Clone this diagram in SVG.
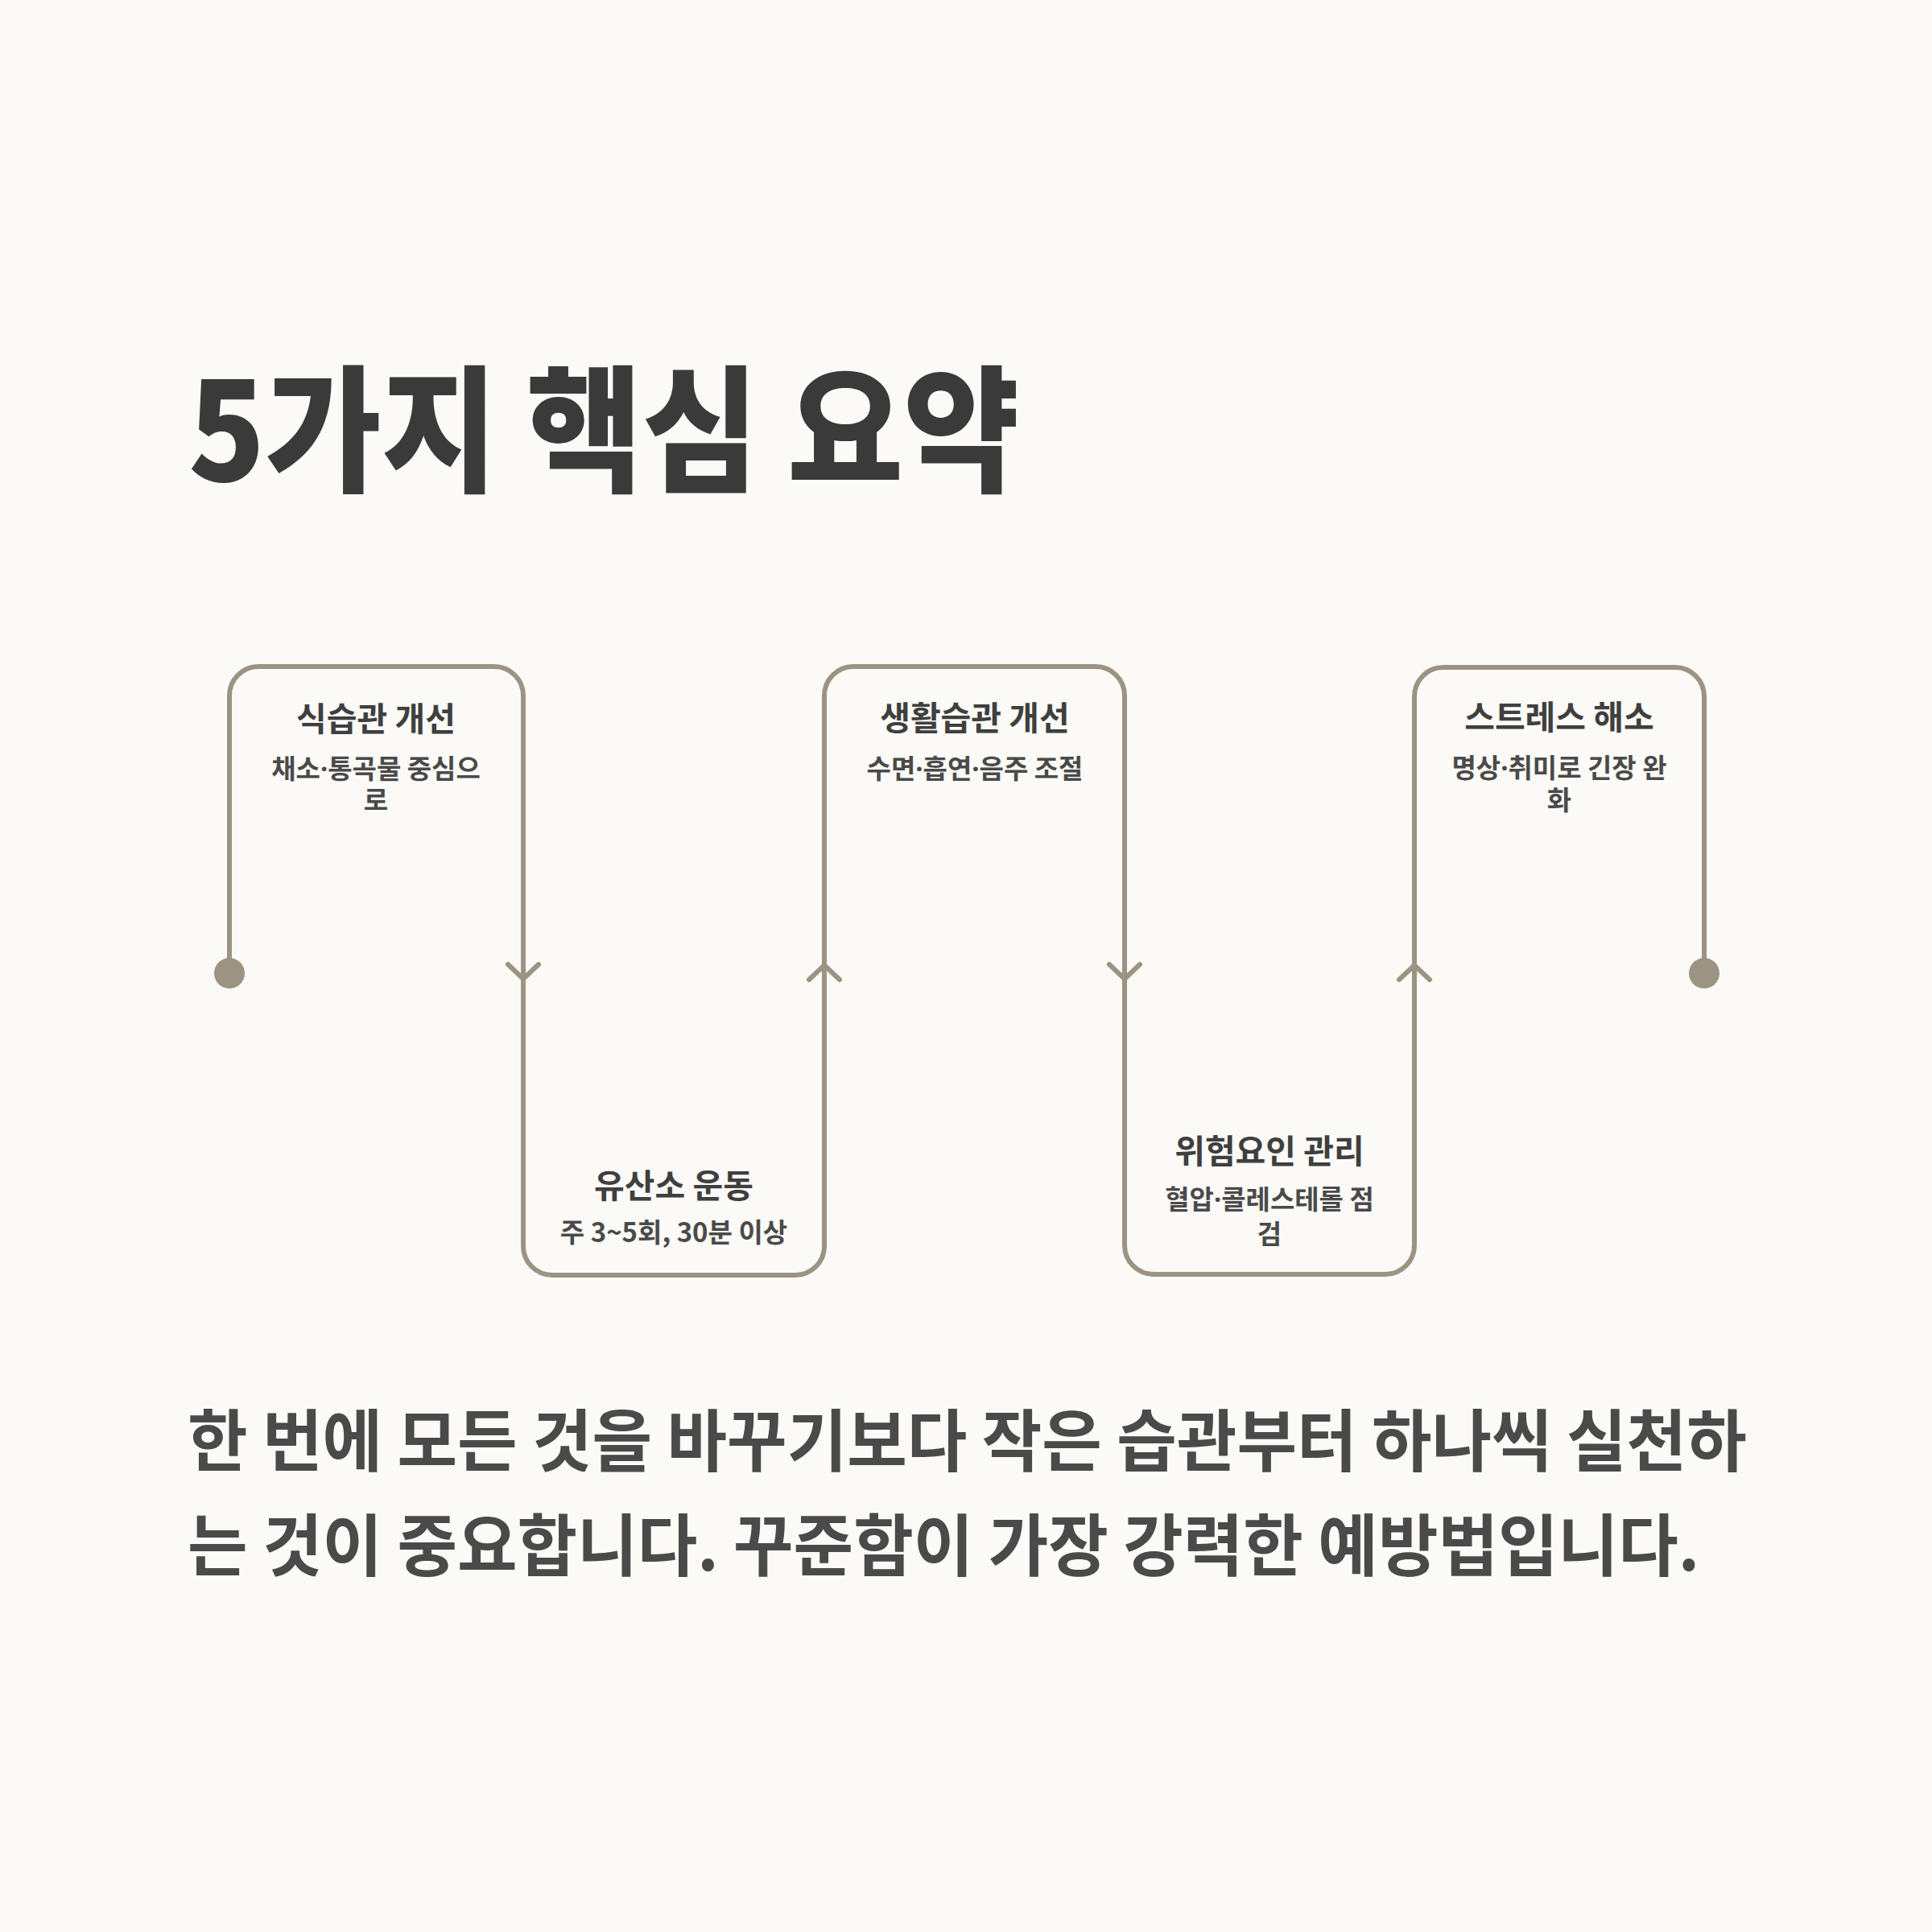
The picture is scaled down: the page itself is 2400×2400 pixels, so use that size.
<svg xmlns="http://www.w3.org/2000/svg" width="2400" height="2400" viewBox="0 0 2400 2400">
<style>
.bg{fill:#fbfaf6}
.ttl{font-family:"Noto Sans CJK KR","Noto Sans",sans-serif;font-weight:900;font-size:170px;fill:#3a3a3a}
.nt{font-family:"Noto Sans CJK KR","Noto Sans",sans-serif;font-weight:700;font-size:41px;fill:#3f3f3f;text-anchor:middle}
.ns{font-family:"Noto Sans CJK KR","Noto Sans",sans-serif;font-weight:700;font-size:33px;fill:#4a4a4a;text-anchor:middle}
.md{font-family:"Noto Sans","Noto Sans CJK KR",sans-serif}
.para{font-family:"Noto Sans CJK KR","Noto Sans",sans-serif;font-weight:700;font-size:84px;fill:#4a4a4a}
.line{fill:none;stroke:#9c9383;stroke-width:6;stroke-linejoin:round}
.chev{fill:none;stroke:#9c9383;stroke-width:6;stroke-linecap:round;stroke-linejoin:round}
.dot{fill:#9c9383}
</style>
<rect class="bg" x="0" y="0" width="2400" height="2400"/>
<text id="title" class="ttl" transform="translate(234,598) scale(0.922,1)">5가지 핵심 요약</text>
<g id="connectors">
<path class="line" d="M285,1209 V864 A36,36 0 0 1 321,828 H614 A36,36 0 0 1 650,864 V1548 A36,36 0 0 0 686,1584 H988 A36,36 0 0 0 1024,1548 V864 A36,36 0 0 1 1060,828 H1361 A36,36 0 0 1 1397,864 V1547 A36,36 0 0 0 1433,1583 H1721 A36,36 0 0 0 1757,1547 V865 A36,36 0 0 1 1793,829 H2081 A36,36 0 0 1 2117,865 V1209"/>
<circle class="dot" cx="285" cy="1209" r="19"/>
<circle class="dot" cx="2117" cy="1209" r="19"/>
<path class="chev" d="M631,1198 L650,1216 L669,1198"/>
<path class="chev" d="M1005,1217 L1024,1199 L1043,1217"/>
<path class="chev" d="M1378,1198 L1397,1216 L1416,1198"/>
<path class="chev" d="M1738,1217 L1757,1199 L1776,1217"/>
</g>
<g id="node1">
<text class="nt" x="467" y="908">식습관 개선</text>
<text class="ns" x="467" y="967">채소<tspan class="md">·</tspan>통곡물 중심으<tspan x="467" dy="39">로</tspan></text>
</g>
<g id="node2">
<text class="nt" x="837" y="1488">유산소 운동</text>
<text class="ns" x="837" y="1543">주 3~5회, 30분 이상</text>
</g>
<g id="node3">
<text class="nt" x="1211" y="907">생활습관 개선</text>
<text class="ns" x="1211" y="967">수면<tspan class="md">·</tspan>흡연<tspan class="md">·</tspan>음주 조절</text>
</g>
<g id="node4">
<text class="nt" x="1577" y="1445">위험요인 관리</text>
<text class="ns" x="1577" y="1502">혈압<tspan class="md">·</tspan>콜레스테롤 점<tspan x="1577" dy="43">검</tspan></text>
</g>
<g id="node5">
<text class="nt" x="1937" y="906">스트레스 해소</text>
<text class="ns" x="1937" y="966">명상<tspan class="md">·</tspan>취미로 긴장 완<tspan x="1937" dy="40">화</tspan></text>
</g>
<g id="summary">
<text class="para" transform="translate(233,1821) scale(0.965,1)">한 번에 모든 것을 바꾸기보다 작은 습관부터 하나씩 실천하<tspan x="0" dy="130">는 것이 중요합니다. 꾸준함이 가장 강력한 예방법입니다.</tspan></text>
</g>
</svg>
